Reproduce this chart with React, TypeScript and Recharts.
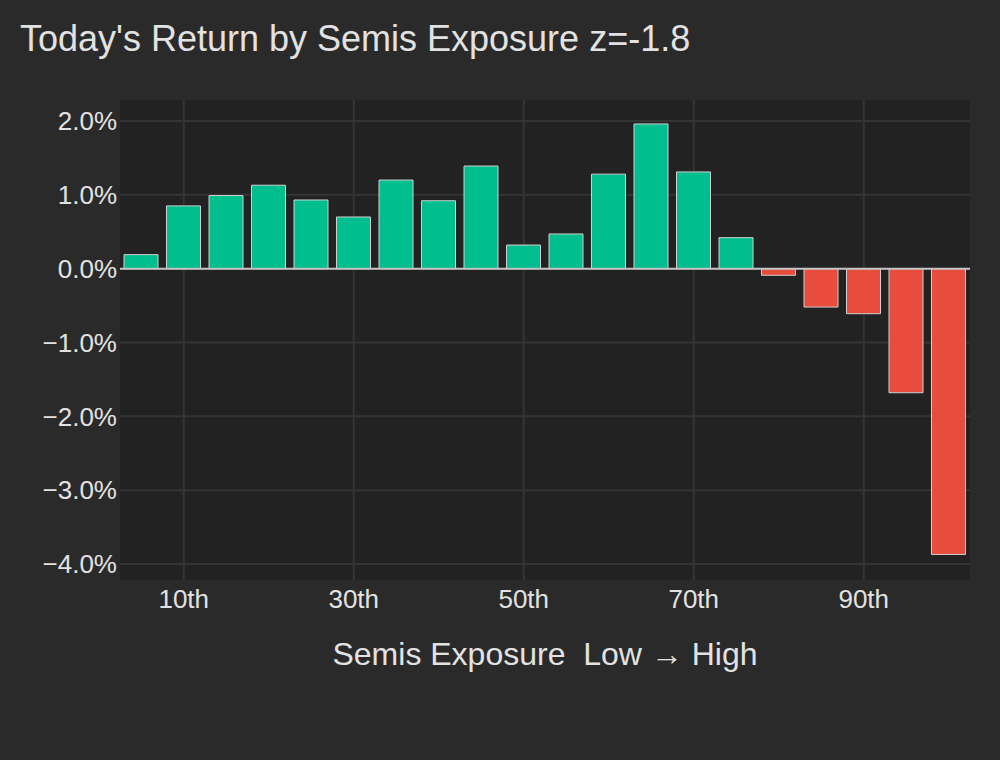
import { Bar, BarChart, CartesianGrid, Cell, ReferenceLine, XAxis, YAxis } from "recharts"

// percentile buckets of semis exposure (low -> high)
const percentiles = [5, 10, 15, 20, 25, 30, 35, 40, 45, 50, 55, 60, 65, 70, 75, 80, 85, 90, 95, 100]
// today's return, in percent
const returns = [
  0.19, 0.85, 0.99, 1.13, 0.93, 0.7, 1.2, 0.92, 1.39, 0.32,
  0.47, 1.28, 1.96, 1.31, 0.42, -0.09, -0.52, -0.61, -1.68, -3.87,
]
const xTicks = [10, 30, 50, 70, 90]
const yTicks = [-4, -3, -2, -1, 0, 1, 2]

const data = percentiles.map((p, i) => ({ pct: p, ret: returns[i] }))

const GREEN = "#00be8e"
const RED = "#e74c3c"
const TEXT = "#e2e2e2"
const FONT = "'Liberation Sans', Arial, sans-serif"

const fmtPct = (v: number) => `${v < 0 ? "\u2212" : ""}${Math.abs(v).toFixed(1)}%`

export default function App() {
  return (
    <div style={{ position: "absolute", left: 0, top: 0, width: 1000, height: 760, background: "#2a2a2a", fontFamily: FONT }}>
      <BarChart
        width={1000}
        height={760}
        data={data}
        margin={{ top: 100, right: 30, bottom: 80, left: 0 }}
      >
        <CartesianGrid fill="#222222" stroke="#343434" strokeWidth={2} horizontalValues={yTicks} verticalValues={xTicks} />
        <XAxis
          dataKey="pct"
          type="number"
          domain={[2.5, 102.5]}
          ticks={xTicks}
          tickFormatter={(v) => `${v}th`}
          axisLine={false}
          tickLine={false}
          tickSize={0}
          tickMargin={10}
          height={100}
          tick={{ fill: TEXT, fontSize: 26, fontFamily: FONT }}
        />
        <YAxis
          type="number"
          domain={[-4.216, 2.284]}
          ticks={yTicks}
          tickFormatter={fmtPct}
          axisLine={false}
          tickLine={false}
          tickSize={0}
          tickMargin={3}
          width={120}
          allowDataOverflow
          tick={{ fill: TEXT, fontSize: 26, fontFamily: FONT }}
        />
        <Bar dataKey="ret" barSize={34} stroke="#cfcfcf" strokeWidth={1} isAnimationActive={false}>
          {data.map((d) => (
            <Cell key={d.pct} fill={d.ret >= 0 ? GREEN : RED} />
          ))}
        </Bar>
        <ReferenceLine y={0} stroke="#c4c4c4" strokeWidth={2} />
      </BarChart>
      <svg width={1000} height={760} style={{ position: "absolute", left: 0, top: 0, pointerEvents: "none" }}>
        <text x={20} y={51} fill={TEXT} fontSize={36} fontFamily={FONT}>
          Today's Return by Semis Exposure z=-1.8
        </text>
        <text x={545} y={665} fill={TEXT} fontSize={32} fontFamily={FONT} textAnchor="middle" style={{ whiteSpace: "pre" }}>
          {"Semis Exposure  Low \u2192 High"}
        </text>
      </svg>
    </div>
  )
}
